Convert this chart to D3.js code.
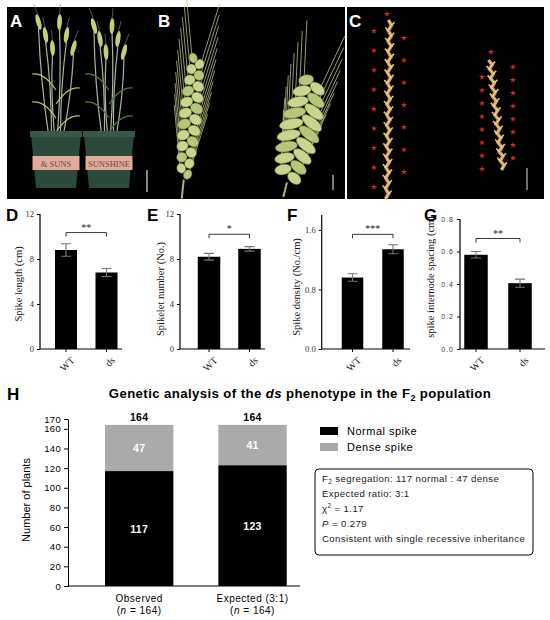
<!DOCTYPE html>
<html>
<head>
<meta charset="utf-8">
<script src="https://cdn.jsdelivr.net/npm/d3@7"></script>
<style>
  body { margin: 0; background: #fff; }
  svg { display: block; }
</style>
</head>
<body>
<script>
// ---- data ----
const categories = ['WT', 'ds'];
const spikeLength = [8.8, 6.8];
const spikeLengthSem = [0.55, 0.35];
const spikeletNumber = [8.2, 8.9];
const spikeletNumberSem = [0.3, 0.2];
const spikeDensity = [0.96, 1.34];
const spikeDensitySem = [0.05, 0.06];
const internodeSpacing = [0.58, 0.405];
const internodeSpacingSem = [0.02, 0.025];
const signif = ['**', '*', '***', '**'];
const bracketAt = [10.35, 10.2, 1.54, 0.68];

const groups = ['Observed', 'Expected (3:1)'];
const groupN = [164, 164];
const normalSpike = [117, 123];
const denseSpike = [47, 41];
const hTicks = [0, 20, 40, 60, 80, 100, 120, 140, 160, 170];
const chiSq = 1.17;
const pValue = 0.279;

const serif = '"Liberation Serif", "Times New Roman", serif';
const sans = '"Liberation Sans", Arial, sans-serif';
const narrow = '"Liberation Sans Narrow", "Arial Narrow", "Liberation Sans", sans-serif';

const svg = d3.select('body').append('svg')
    .attr('width', 550)
    .attr('height', 620);

// ================= photo panels (stylised) =================
const photos = svg.append('g');
photos.append('rect').attr('x', 7).attr('y', 7).attr('width', 338).attr('height', 192).attr('fill', '#000');
photos.append('rect').attr('x', 347).attr('y', 7).attr('width', 197).attr('height', 192).attr('fill', '#000');

// A: two pots with plants
[56, 109].forEach((cx, p) => {
    const g = photos.append('g');
    for (let k = 0; k < 6; k++) {
        const bx = cx + (k - 2.5) * 3;
        const tx = cx + (k - 2.5) * (p ? 6 : 7);
        const ty = 28 + (k % 3) * 13 + p * 4;
        g.append('path')
            .attr('d', `M${bx},134 Q${(bx + tx) / 2 + (k % 2 ? 3 : -3)},${(134 + ty) / 2} ${tx},${ty}`)
            .attr('fill', 'none').attr('stroke', '#a7b79a').attr('stroke-width', 1.2);
        g.append('ellipse')
            .attr('cx', tx).attr('cy', ty - 6).attr('rx', 2.4).attr('ry', 8)
            .attr('fill', '#c5cf78').attr('transform', `rotate(${(k - 2.5) * 6},${tx},${ty - 6})`);
        g.append('path')
            .attr('d', `M${tx},${ty - 12} L${tx + (k - 2.5) * 2},${ty - 24}`)
            .attr('stroke', '#8a8f70').attr('stroke-width', 0.6);
    }
    for (let k = 0; k < 4; k++) {
        const y0 = 70 + k * 14;
        const dir = k % 2 ? 1 : -1;
        g.append('path')
            .attr('d', `M${cx},${y0 + 20} Q${cx + dir * 12},${y0 + 2} ${cx + dir * 24},${y0 + 4}`)
            .attr('fill', 'none').attr('stroke', p ? '#4f7a3a' : '#b8c070').attr('stroke-width', 1.2);
    }
    g.append('path')
        .attr('d', `M${cx - 25},134 L${cx + 25},134 L${cx + 20},188 L${cx - 20},188 Z`)
        .attr('fill', '#2c4a3a');
    g.append('rect').attr('x', cx - 26).attr('y', 131).attr('width', 52).attr('height', 6).attr('fill', '#37584a');
    g.append('rect').attr('x', cx - 23.5).attr('y', 156).attr('width', 47).attr('height', 14).attr('fill', '#e2aa9c');
    g.append('text').attr('x', cx).attr('y', 167).attr('text-anchor', 'middle')
        .attr('font-family', serif).attr('font-size', 8.5).attr('fill', '#6b4a3e')
        .text(p ? 'SUNSHINE' : '& SUNS');
});
photos.append('line').attr('x1', 147).attr('x2', 147).attr('y1', 170).attr('y2', 192).attr('stroke', '#ddd').attr('stroke-width', 1.2);

// B: two spikes
function spike(g, cx, top, bottom, half, n, awnLen) {
    const dy = (bottom - top) / n;
    for (let i = 0; i < n; i++) {
        const side = i % 2 ? 1 : -1;
        const y = top + i * dy;
        const w = half * (0.55 + 0.45 * Math.sin(Math.PI * (i + 1) / (n + 1)));
        g.append('line')
            .attr('x1', cx + side * w * 0.6).attr('y1', y)
            .attr('x2', cx + side * (w * 0.6 + awnLen * 0.2)).attr('y2', y - awnLen)
            .attr('stroke', '#c8c990').attr('stroke-width', 0.7);
    }
    for (let i = 0; i < n; i++) {
        const side = i % 2 ? 1 : -1;
        const y = top + i * dy;
        const w = half * (0.55 + 0.45 * Math.sin(Math.PI * (i + 1) / (n + 1)));
        g.append('ellipse')
            .attr('cx', cx + side * w * 0.45).attr('cy', y).attr('rx', w * 0.55).attr('ry', dy * 0.9)
            .attr('fill', i % 3 ? '#c9d58e' : '#b5c77a').attr('stroke', '#6e7a3c').attr('stroke-width', 0.5)
            .attr('transform', `rotate(${side * 25},${cx + side * w * 0.45},${y})`);
    }
    g.append('line').attr('x1', cx).attr('x2', cx).attr('y1', bottom).attr('y2', 199)
        .attr('stroke', '#a9b878').attr('stroke-width', 2);
}
spike(photos.append('g').attr('transform', 'rotate(6,190,120)'), 190, 58, 180, 12, 22, 62);
spike(photos.append('g').attr('transform', 'rotate(14,300,130)'), 300, 80, 184, 22, 18, 58);
photos.append('line').attr('x1', 333).attr('x2', 333).attr('y1', 175).attr('y2', 190).attr('stroke', '#ccc').attr('stroke-width', 1.2);

// C: rachises with spikelet marks
function rachis(x1, y1, x2, y2, nodes) {
    const pts = d3.range(nodes + 1).map(i => {
        const t = i / nodes;
        return [x1 + (x2 - x1) * t + (i % 2 ? 1.6 : -1.6), y1 + (y2 - y1) * t];
    });
    photos.append('path').attr('d', d3.line()(pts)).attr('fill', 'none')
        .attr('stroke', '#c99a52').attr('stroke-width', 3.5);
    pts.forEach(([px, py], i) => {
        if (i === 0 || i === nodes) return;
        const s = i % 2 ? 1 : -1;
        photos.append('path').attr('d', `M${px},${py} l${s * 3},-3`)
            .attr('stroke', '#e8c888').attr('stroke-width', 1.6);
    });
    photos.append('path').attr('d', d3.line()(pts)).attr('fill', 'none')
        .attr('stroke', '#f2dca8').attr('stroke-width', 1);
}
rachis(390, 20, 387, 199, 34);
rachis(490, 60, 503, 170, 24);
const star = d3.symbol().type(d3.symbolStar).size(12);
function stars(x, y0, y1, n) {
    d3.range(n).forEach(i => {
        const y = n > 1 ? y0 + i * (y1 - y0) / (n - 1) : y0;
        photos.append('path').attr('d', star).attr('transform', `translate(${x},${y})`)
            .attr('fill', '#c0302a');
    });
}
stars(387, 14, 14, 1);
stars(374, 31, 187, 9);
stars(404, 38, 172, 7);
stars(491, 52, 52, 1);
stars(482, 77, 169, 8);
stars(513, 67, 158, 8);
photos.append('line').attr('x1', 527).attr('x2', 527).attr('y1', 168).attr('y2', 190).attr('stroke', '#bbb').attr('stroke-width', 1.2);

[['A', 10], ['B', 158], ['C', 349]].forEach(([t, x]) => {
    photos.append('text').attr('x', x).attr('y', 27).attr('font-family', sans)
        .attr('font-weight', 'bold').attr('font-size', 17).attr('fill', '#fff').text(t);
});

// ================= bar panels D-G =================
const panels = [
    {label: 'D', lx: 6, x0: 40, c: [66, 106.5], bw: 22, xEnd: 122, yTop: 214, max: 12,
     ticks: [0, 4, 8, 12], fmt: d3.format('d'), title: 'Spike length (cm)', tx: 22, ty: 284,
     values: spikeLength, sem: spikeLengthSem},
    {label: 'E', lx: 147, x0: 180, c: [209, 249.5], bw: 22.5, xEnd: 265, yTop: 214, max: 12,
     ticks: [0, 4, 8, 12], fmt: d3.format('d'), title: 'Spikelet number (No.)', tx: 164, ty: 289,
     values: spikeletNumber, sem: spikeletNumberSem},
    {label: 'F', lx: 287, x0: 321.7, c: [352.5, 393], bw: 21.5, xEnd: 410, yTop: 215, max: 1.8,
     ticks: [0, 0.8, 1.6], fmt: d3.format('.1f'), title: 'Spike density (No./cm)', tx: 300, ty: 287,
     values: spikeDensity, sem: spikeDensitySem},
    {label: 'G', lx: 424, x0: 460, c: [476, 520], bw: 23.5, xEnd: 545, yTop: 219, max: 0.8,
     ticks: [0, 0.2, 0.4, 0.6, 0.8], fmt: d3.format('.1f'), title: 'spike internode spacing (cm)', tx: 434, ty: 277,
     values: internodeSpacing, sem: internodeSpacingSem, sansTicks: true}
];
const yBottom = 349;

panels.forEach((p, i) => {
    const g = svg.append('g');
    const step = p.c[1] - p.c[0];
    const pad = 1 - p.bw / step;
    const x = d3.scaleBand().domain(categories)
        .range([p.c[0] - step / 2, p.c[1] + step / 2])
        .paddingInner(pad).paddingOuter(pad / 2);
    const y = d3.scaleLinear().domain([0, p.max]).range([yBottom, p.yTop]);

    const yAxis = g.append('g')
        .attr('transform', `translate(${p.x0},0)`)
        .call(d3.axisLeft(y).tickValues(p.ticks).tickFormat(p.fmt).tickSize(3).tickSizeOuter(0));
    yAxis.select('.domain').attr('stroke', '#000').attr('stroke-width', 1.2)
        .attr('d', `M0,${yBottom}V${p.yTop}`);
    yAxis.selectAll('.tick line').attr('stroke', '#000');
    yAxis.selectAll('.tick text')
        .attr('font-family', p.sansTicks ? sans : serif)
        .attr('font-size', p.sansTicks ? 7 : 8.5)
        .attr('letter-spacing', p.sansTicks ? 1 : 0)
        .attr('fill', '#333');

    g.append('line').attr('x1', p.x0).attr('x2', p.xEnd).attr('y1', yBottom).attr('y2', yBottom)
        .attr('stroke', '#000').attr('stroke-width', 1.2);
    categories.forEach(cat => {
        const cx = x(cat) + x.bandwidth() / 2;
        g.append('line').attr('x1', cx).attr('x2', cx).attr('y1', yBottom).attr('y2', yBottom + 3)
            .attr('stroke', '#000');
        g.append('text')
            .attr('transform', `translate(${cx + 4},${yBottom + 7}) rotate(-45)`)
            .attr('text-anchor', 'end').attr('dy', '0.7em')
            .attr('font-family', serif).attr('font-size', 10).attr('fill', '#222')
            .text(cat);
    });

    g.selectAll('rect.bar').data(p.values).join('rect')
        .attr('class', 'bar')
        .attr('x', (d, j) => x(categories[j]))
        .attr('width', x.bandwidth())
        .attr('y', d => y(d))
        .attr('height', d => yBottom - y(d))
        .attr('fill', '#000');

    p.values.forEach((v, j) => {
        const cx = x(categories[j]) + x.bandwidth() / 2;
        const lo = y(v - p.sem[j]), hi = y(v + p.sem[j]);
        g.append('path')
            .attr('d', `M${cx},${lo}V${hi}M${cx - 5},${hi}H${cx + 5}M${cx - 5},${lo}H${cx + 5}`)
            .attr('stroke', '#777').attr('stroke-width', 1.1).attr('fill', 'none');
    });

    const bx1 = x(categories[0]) + x.bandwidth() / 2;
    const bx2 = x(categories[1]) + x.bandwidth() / 2;
    const by = y(bracketAt[i]);
    g.append('path')
        .attr('d', `M${bx1},${by + 4}V${by}H${bx2}V${by + 4}`)
        .attr('stroke', '#222').attr('stroke-width', 0.9).attr('fill', 'none');
    g.append('text').attr('x', (bx1 + bx2) / 2).attr('y', by - 2).attr('text-anchor', 'middle')
        .attr('font-family', serif).attr('font-size', 10).attr('fill', '#222').text(signif[i]);

    g.append('text')
        .attr('transform', `translate(${p.tx},${p.ty}) rotate(-90)`)
        .attr('text-anchor', 'middle')
        .attr('font-family', serif).attr('font-size', 10.5).attr('fill', '#111')
        .text(p.title);
    g.append('text').attr('x', p.lx).attr('y', 221)
        .attr('font-family', sans).attr('font-weight', 'bold').attr('font-size', 17)
        .text(p.label);
});

// ================= panel H =================
const gh = svg.append('g');
gh.append('text').attr('x', 7).attr('y', 400).attr('font-family', sans)
    .attr('font-weight', 'bold').attr('font-size', 17).text('H');

const title = gh.append('text').attr('x', 300).attr('y', 398).attr('text-anchor', 'middle')
    .attr('font-family', sans).attr('font-weight', 'bold').attr('font-size', 13.2)
    .attr('letter-spacing', 0.4);
title.append('tspan').text('Genetic analysis of the ');
title.append('tspan').attr('font-style', 'italic').text('ds');
title.append('tspan').text(' phenotype in the F');
title.append('tspan').attr('font-size', 9).attr('dy', 3).text('2');
title.append('tspan').attr('dy', -3).text(' population');

const hx = d3.scaleBand().domain(groups).range([82.5, 309.2]).paddingInner(0.397).paddingOuter(0.1985);
const hy = d3.scaleLinear().domain([0, 170]).range([586, 419]);

const hAxis = gh.append('g').attr('transform', 'translate(68,0)')
    .call(d3.axisLeft(hy).tickValues(hTicks).tickSize(4).tickSizeOuter(0));
hAxis.select('.domain').attr('stroke', '#000').attr('stroke-width', 1);
hAxis.selectAll('.tick text').attr('font-family', sans).attr('font-size', 9.5)
    .attr('letter-spacing', 0.3).attr('fill', '#000');
gh.append('line').attr('x1', 68).attr('x2', 300).attr('y1', 586).attr('y2', 586)
    .attr('stroke', '#000').attr('stroke-width', 1);

gh.append('text').attr('transform', 'translate(30,500) rotate(-90)').attr('text-anchor', 'middle')
    .attr('font-family', narrow).attr('font-size', 11).text('Number of plants');

const stacked = d3.stack().keys(['normal', 'dense'])(
    groups.map((gname, i) => ({group: gname, normal: normalSpike[i], dense: denseSpike[i]})));
const fills = {normal: '#000', dense: '#aaaaaa'};
stacked.forEach(layer => {
    gh.selectAll(`rect.${layer.key}`).data(layer).join('rect')
        .attr('class', layer.key)
        .attr('x', d => hx(d.data.group))
        .attr('width', hx.bandwidth())
        .attr('y', d => hy(d[1]))
        .attr('height', d => hy(d[0]) - hy(d[1]))
        .attr('fill', fills[layer.key]);
    gh.selectAll(`text.${layer.key}`).data(layer).join('text')
        .attr('class', layer.key)
        .attr('x', d => hx(d.data.group) + hx.bandwidth() / 2)
        .attr('y', d => (hy(d[0]) + hy(d[1])) / 2 + 4)
        .attr('text-anchor', 'middle').attr('font-family', sans).attr('font-weight', 'bold')
        .attr('font-size', 10.5).attr('letter-spacing', 0.3).attr('fill', '#fff')
        .text(d => d[1] - d[0]);
});
groups.forEach((gname, i) => {
    const cx = hx(gname) + hx.bandwidth() / 2;
    gh.append('text').attr('x', cx).attr('y', hy(groupN[i]) - 4).attr('text-anchor', 'middle')
        .attr('font-family', sans).attr('font-weight', 'bold').attr('font-size', 10.5)
        .attr('letter-spacing', 0.3).text(groupN[i]);
    gh.append('text').attr('x', cx).attr('y', 602).attr('text-anchor', 'middle')
        .attr('font-family', sans).attr('font-size', 10).attr('letter-spacing', 0.5).text(gname);
    const t = gh.append('text').attr('x', cx).attr('y', 614).attr('text-anchor', 'middle')
        .attr('font-family', sans).attr('font-size', 10).attr('letter-spacing', 0.5);
    t.append('tspan').text('(');
    t.append('tspan').attr('font-style', 'italic').text('n');
    t.append('tspan').text(` = ${groupN[i]})`);
});

// legend
[['Normal spike', fills.normal], ['Dense spike', fills.dense]].forEach(([lab, col], i) => {
    gh.append('rect').attr('x', 320).attr('y', 427 + i * 16).attr('width', 18).attr('height', 8).attr('fill', col);
    gh.append('text').attr('x', 347).attr('y', 435 + i * 16).attr('font-family', sans)
        .attr('font-size', 11).attr('letter-spacing', 0.5).text(lab);
});

// stats box
gh.append('rect').attr('x', 315).attr('y', 469).attr('width', 218).attr('height', 86).attr('rx', 4)
    .attr('fill', '#fff').attr('stroke', '#000').attr('stroke-width', 1);
const lineY = [482, 497, 512, 527, 542];
const boxText = (i) => gh.append('text').attr('x', 322).attr('y', lineY[i])
    .attr('font-family', sans).attr('font-size', 9.6).attr('letter-spacing', 0.4).attr('fill', '#222');
let t0 = boxText(0);
t0.append('tspan').text('F');
t0.append('tspan').attr('font-size', 6.5).attr('dy', 2).text('2');
t0.append('tspan').attr('dy', -2).text(` segregation: ${normalSpike[0]} normal : ${denseSpike[0]} dense`);
boxText(1).text('Expected ratio: 3:1');
let t2 = boxText(2);
t2.append('tspan').text('χ');
t2.append('tspan').attr('font-size', 6.5).attr('dy', -4).text('2');
t2.append('tspan').attr('dy', 4).text(` = ${chiSq}`);
let t3 = boxText(3);
t3.append('tspan').attr('font-style', 'italic').text('P');
t3.append('tspan').text(` = ${pValue}`);
boxText(4).text('Consistent with single recessive inheritance');
</script>
</body>
</html>
